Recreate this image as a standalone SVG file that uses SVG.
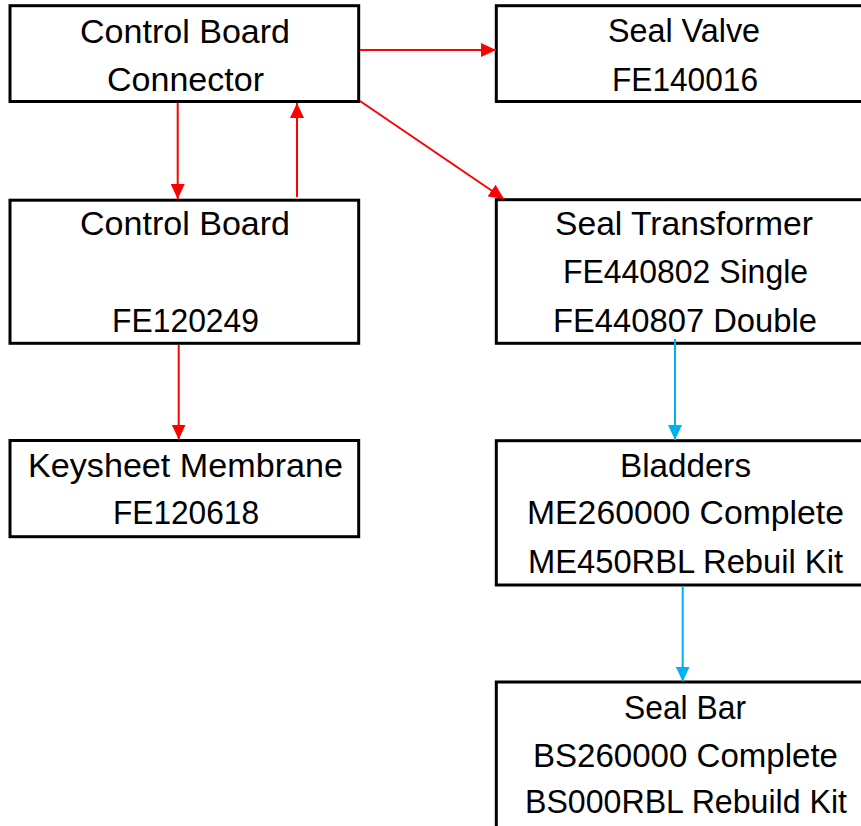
<svg xmlns="http://www.w3.org/2000/svg" width="861" height="826" viewBox="0 0 861 826">
<style>
.box{fill:#fff;stroke:#000;stroke-width:3}
.t{font-family:"Liberation Sans",Arial,sans-serif;font-size:34px;fill:#000;text-anchor:middle}
.r{stroke:#ff0000;stroke-width:2;fill:none}
.b{stroke:#00b0f0;stroke-width:2;fill:none}
</style>
<defs>
<marker id="ar" viewBox="0 0 15 14" refX="15" refY="7" markerWidth="15" markerHeight="14" markerUnits="userSpaceOnUse" orient="auto"><path d="M0,0 L15,7 L0,14 z" fill="#ff0000"/></marker>
<marker id="ab" viewBox="0 0 15 14" refX="15" refY="7" markerWidth="15" markerHeight="14" markerUnits="userSpaceOnUse" orient="auto"><path d="M0,0 L15,7 L0,14 z" fill="#00b0f0"/></marker>
</defs>
<rect width="861" height="826" fill="#fff"/>
<g id="n-cbc"><rect class="box" x="10" y="5.7" width="348.7" height="95.8"/><text class="t" x="185" y="42.7" textLength="210" lengthAdjust="spacingAndGlyphs">Control Board</text><text class="t" x="185.5" y="90.7" textLength="157" lengthAdjust="spacingAndGlyphs">Connector</text></g>
<g id="n-cb"><rect class="box" x="10" y="200.2" width="348.7" height="143.1"/><text class="t" x="185" y="235.3" textLength="210" lengthAdjust="spacingAndGlyphs">Control Board</text><text class="t" x="185.5" y="331.7" textLength="147" lengthAdjust="spacingAndGlyphs">FE120249</text></g>
<g id="n-key"><rect class="box" x="10" y="440.5" width="348.7" height="96.2"/><text class="t" x="185.5" y="476.7" textLength="315" lengthAdjust="spacingAndGlyphs">Keysheet Membrane</text><text class="t" x="186" y="524.3" textLength="146" lengthAdjust="spacingAndGlyphs">FE120618</text></g>
<g id="n-sv"><rect class="box" x="496.3" y="5.7" width="380" height="95.8"/><text class="t" x="684" y="42.3" textLength="152" lengthAdjust="spacingAndGlyphs">Seal Valve</text><text class="t" x="685" y="90.7" textLength="146" lengthAdjust="spacingAndGlyphs">FE140016</text></g>
<g id="n-st"><rect class="box" x="496.3" y="199.7" width="380" height="143.6"/><text class="t" x="684" y="235.3" textLength="258" lengthAdjust="spacingAndGlyphs">Seal Transformer</text><text class="t" x="685.5" y="283.3" textLength="245" lengthAdjust="spacingAndGlyphs">FE440802 Single</text><text class="t" x="685" y="331.7" textLength="264" lengthAdjust="spacingAndGlyphs">FE440807 Double</text></g>
<g id="n-bl"><rect class="box" x="496.3" y="440.7" width="380" height="144.3"/><text class="t" x="685.5" y="476.7" textLength="131" lengthAdjust="spacingAndGlyphs">Bladders</text><text class="t" x="685.5" y="524.3" textLength="317" lengthAdjust="spacingAndGlyphs">ME260000 Complete</text><text class="t" x="685.5" y="573.3" textLength="315" lengthAdjust="spacingAndGlyphs">ME450RBL Rebuil Kit</text></g>
<g id="n-sb"><rect class="box" x="496.3" y="682" width="380" height="160"/><text class="t" x="685" y="719" textLength="122" lengthAdjust="spacingAndGlyphs">Seal Bar</text><text class="t" x="685.5" y="766.7" textLength="305" lengthAdjust="spacingAndGlyphs">BS260000 Complete</text><text class="t" x="686" y="813.3" textLength="322" lengthAdjust="spacingAndGlyphs">BS000RBL Rebuild Kit</text></g>
<g id="connectors">
<line class="r" x1="360" y1="50" x2="496" y2="50" marker-end="url(#ar)"/>
<line class="r" x1="177.7" y1="103" x2="177.7" y2="199" marker-end="url(#ar)"/>
<line class="r" x1="297" y1="197" x2="297" y2="103" marker-end="url(#ar)"/>
<line class="r" x1="360" y1="101" x2="504" y2="199" marker-end="url(#ar)"/>
<line class="r" x1="178.7" y1="345" x2="178.7" y2="439.5" marker-end="url(#ar)"/>
<line class="b" x1="675" y1="339" x2="675" y2="440" marker-end="url(#ab)"/>
<line class="b" x1="682.7" y1="586" x2="682.7" y2="681.5" marker-end="url(#ab)"/>
</g>
</svg>
